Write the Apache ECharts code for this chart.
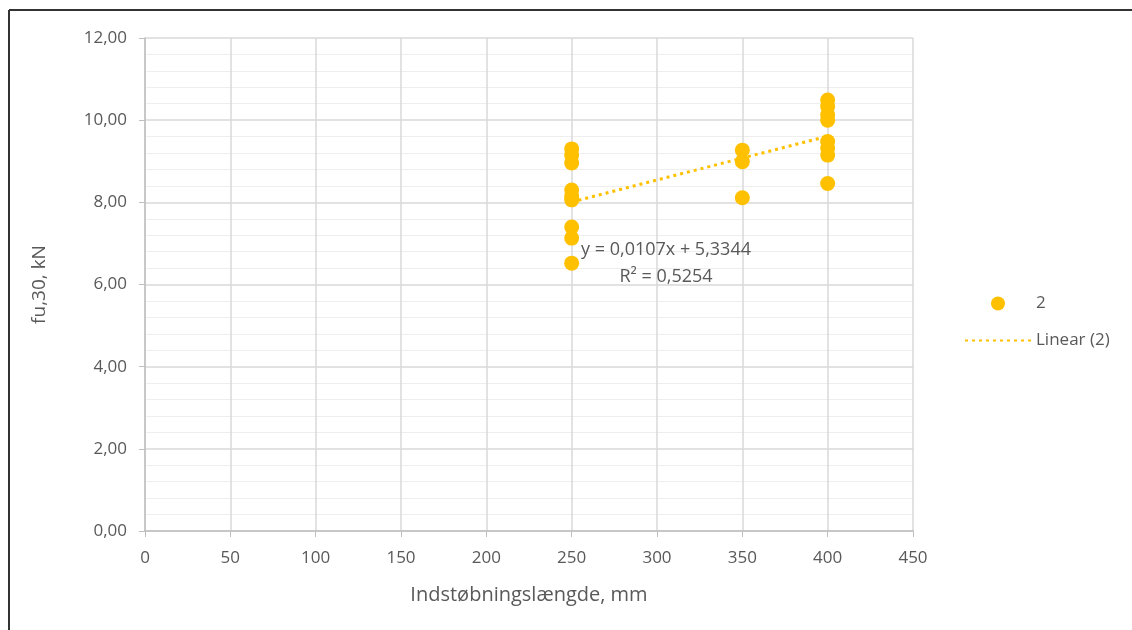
<!DOCTYPE html>
<html>
<head>
<meta charset="utf-8">
<script src="https://cdn.jsdelivr.net/npm/echarts@6/dist/echarts.min.js"></script>
<style>html,body{margin:0;padding:0;background:#fff}#c{width:1132px;height:630px}</style>
</head>
<body>
<div id="c"></div>
<script>
const pointsX = [250,250,250,250,250,250,250,250,250, 350,350,350, 400,400,400,400,400,400,400,400];
const pointsY = [9.30,9.15,8.96,8.30,8.14,8.06,7.40,7.13,6.52, 9.27,8.99,8.11, 10.49,10.33,10.13,10.00,9.48,9.32,9.15,8.46];
const trendX = [250, 400];
const trendY = [8.01, 9.61];
const xTicks = [0,50,100,150,200,250,300,350,400,450];
const yTicks = [0,2,4,6,8,10,12];
const seriesName = '2';
const trendName = 'Linear (2)';
const trendLabel1 = 'y = 0,0107x + 5,3344';
const trendLabel2 = 'R² = 0,5254';
const xTitle = 'Indstøbningslængde, mm';
const yTitle = 'fu,30, kN';

const font = '"Open Sans", "Noto Sans", sans-serif';
const txt = '#595959';
const chart = echarts.init(document.getElementById('c'), null, {renderer:'canvas'});
chart.setOption({
  animation:false,
  backgroundColor:'#fff',
  textStyle:{fontFamily:font},
  grid:{left:145,right:219,top:38,bottom:99},
  xAxis:{
    type:'value',min:xTicks[0],max:xTicks[xTicks.length-1],interval:50,
    axisLine:{show:true,onZero:false,lineStyle:{color:'#bfbfbf',width:1.5}},
    axisTick:{show:true,length:6,lineStyle:{color:'#bfbfbf'}},
    axisLabel:{color:txt,fontSize:17,fontFamily:font,margin:19},
    splitLine:{show:true,lineStyle:{color:'#d9d9d9',width:1.5}},
    name:xTitle,nameLocation:'middle',nameGap:54,
    nameTextStyle:{color:txt,fontSize:20,fontFamily:font}
  },
  yAxis:{
    type:'value',min:yTicks[0],max:yTicks[yTicks.length-1],interval:2,
    axisLine:{show:true,lineStyle:{color:'#bfbfbf',width:1.5}},
    axisTick:{show:true,length:6,lineStyle:{color:'#bfbfbf'}},
    axisLabel:{color:txt,fontSize:17,fontFamily:font,margin:18,
      formatter:v=>v.toFixed(2).replace('.',',')},
    splitLine:{show:true,lineStyle:{color:'#d9d9d9',width:1.5}},
    minorTick:{show:false,splitNumber:5},
    minorSplitLine:{show:true,lineStyle:{color:'#eeeeee',width:1}},
    name:yTitle,nameLocation:'middle',nameGap:96,
    nameTextStyle:{color:txt,fontSize:19,fontFamily:font}
  },
  legend:{
    orient:'vertical',left:959,top:290,itemGap:20,itemWidth:66,itemHeight:14,
    textStyle:{color:txt,fontSize:17,fontFamily:font},
    data:[{name:seriesName,icon:'circle'},{name:trendName,itemStyle:{opacity:0}}]
  },
  series:[
    {name:seriesName,type:'scatter',symbolSize:15,z:3,
      itemStyle:{color:'#FFC000',opacity:1},
      data:pointsX.map((x,i)=>[x,pointsY[i]])},
    {name:trendName,type:'line',symbol:'none',z:2,
      lineStyle:{color:'#FFC000',width:3,type:[3,4]},
      itemStyle:{color:'#FFC000'},
      data:trendX.map((x,i)=>[x,trendY[i]])}
  ],
  graphic:[
    {type:'text',z:10,style:{text:trendLabel1,x:666,y:250,align:'center',verticalAlign:'middle',fill:txt,font:'18px '+font}},
    {type:'text',z:10,style:{text:trendLabel2,x:666,y:277,align:'center',verticalAlign:'middle',fill:txt,font:'18px '+font}},
    {type:'line',shape:{x1:9,y1:10,x2:1132,y2:10},style:{stroke:'#333',lineWidth:2}},
    {type:'line',shape:{x1:9,y1:10,x2:9,y2:630},style:{stroke:'#333',lineWidth:2}}
  ]
});
</script>
</body>
</html>
